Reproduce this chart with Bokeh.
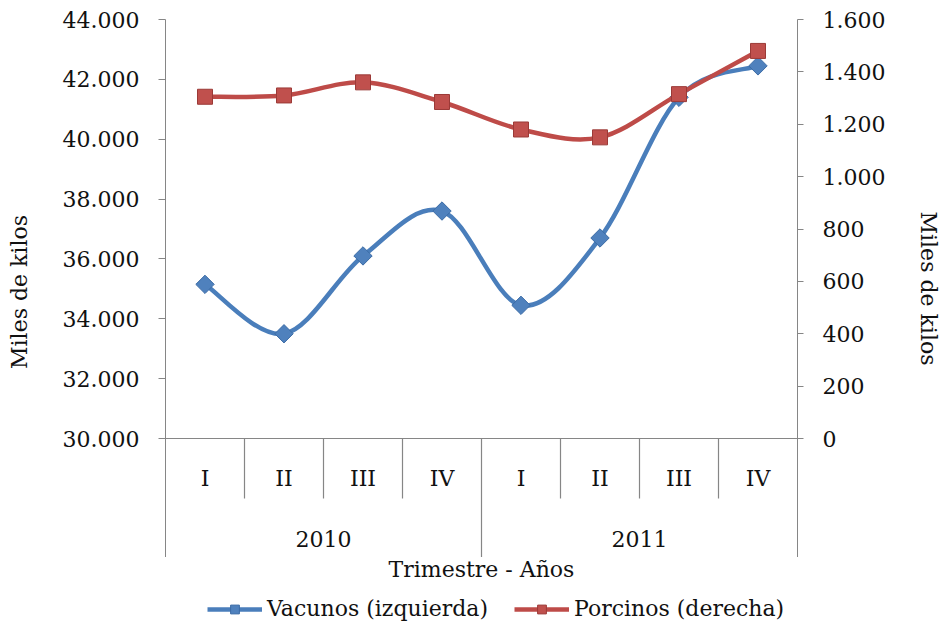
import numpy as np
from bokeh.plotting import figure
from bokeh.layouts import column
from bokeh.models import (Range1d, LinearAxis, FixedTicker, CustomJSTickFormatter,
                          Legend, LegendItem)
from bokeh.core.properties import value
from bokeh.embed import file_html
from bokeh.resources import INLINE

# ---------------- data ----------------
years = ["2010", "2011"]
quarters = ["I", "II", "III", "IV", "I", "II", "III", "IV"]
vacunos = [35150, 33500, 36100, 37600, 34450, 36700, 41400, 42450]
porcinos = [1305, 1310, 1360, 1285, 1180, 1150, 1315, 1480]
left_ticks = [30000, 32000, 34000, 36000, 38000, 40000, 42000, 44000]
right_ticks = [0, 200, 400, 600, 800, 1000, 1200, 1400, 1600]
series_names = ["Vacunos (izquierda)", "Porcinos (derecha)"]
x_title = "Trimestre - Años"

# ---------------- layout constants (page pixels) ----------------
W, H = 940, 622
PAGE_TOP, PAGE_AXIS, PAGE_BOTTOM = 19, 438, 557
FRAME_LEFT, FRAME_RIGHT = 165, 797
L_MIN, L_MAX = left_ticks[0], left_ticks[-1]
R_MIN, R_MAX = right_ticks[0], right_ticks[-1]
l_per_px = (L_MAX - L_MIN) / (PAGE_AXIS - PAGE_TOP)
r_per_px = (R_MAX - R_MIN) / (PAGE_AXIS - PAGE_TOP)


def left_at(page_y):
    return L_MIN - (page_y - PAGE_AXIS) * l_per_px


left_lo = left_at(PAGE_BOTTOM)
right_lo = R_MIN - (PAGE_BOTTOM - PAGE_AXIS) * r_per_px

n = len(quarters)
xs = [i + 0.5 for i in range(n)]

FONT = "DejaVu Serif"
FS = "22px"
GRAY = "#868686"
TXT = "#111111"

BLUE_LINE, BLUE_FILL, BLUE_EDGE = "#4A7EBB", "#4F81BD", "#3C6CA6"
RED_LINE, RED_FILL, RED_EDGE = "#BE4B48", "#C0504D", "#9B3A37"


def bezier_parts(x, y):
    """Catmull-Rom style smoothing (as Excel's smoothed line) as cubic Bezier control points."""
    P = list(zip(x, y))
    out = {k: [] for k in ("x0", "y0", "x1", "y1", "cx0", "cy0", "cx1", "cy1")}
    m = len(P)
    for i in range(m - 1):
        p0 = P[i - 1] if i > 0 else P[i]
        p1 = P[i]
        p2 = P[i + 1]
        p3 = P[i + 2] if i + 2 < m else P[i + 1]
        out["x0"].append(p1[0]); out["y0"].append(p1[1])
        out["x1"].append(p2[0]); out["y1"].append(p2[1])
        out["cx0"].append(p1[0] + (p2[0] - p0[0]) / 6.0)
        out["cy0"].append(p1[1] + (p2[1] - p0[1]) / 6.0)
        out["cx1"].append(p2[0] - (p3[0] - p1[0]) / 6.0)
        out["cy1"].append(p2[1] - (p3[1] - p1[1]) / 6.0)
    return out


# ================= main chart =================
p = figure(frame_width=FRAME_RIGHT - FRAME_LEFT, frame_height=PAGE_BOTTOM - PAGE_TOP,
           x_range=Range1d(0, n), y_range=Range1d(left_lo, L_MAX),
           output_backend="svg", toolbar_location=None, x_axis_location=None,
           min_border_left=FRAME_LEFT, min_border_right=W - FRAME_RIGHT,
           min_border_top=PAGE_TOP, min_border_bottom=0)
p.extra_y_ranges = {"right": Range1d(right_lo, R_MAX)}
p.grid.visible = False
p.outline_line_color = None
p.background_fill_color = "white"
p.border_fill_color = "white"

fmt_code = r"return Math.round(tick).toString().replace(/\B(?=(\d{3})+(?!\d))/g, '.');"


def style_axis(ax, label, tick_out, label_standoff):
    ax.axis_line_color = GRAY
    ax.major_tick_line_color = GRAY
    ax.major_tick_in = 0
    ax.major_tick_out = tick_out
    ax.minor_tick_line_color = None
    ax.major_label_text_font = FONT
    ax.major_label_text_font_size = FS
    ax.major_label_text_color = TXT
    ax.major_label_standoff = 19
    ax.axis_label = label
    ax.axis_label_text_font = FONT
    ax.axis_label_text_font_size = FS
    ax.axis_label_text_font_style = "normal"
    ax.axis_label_text_color = TXT
    ax.axis_label_standoff = label_standoff


ya = p.yaxis[0]
ya.ticker = FixedTicker(ticks=left_ticks)
ya.formatter = CustomJSTickFormatter(code=fmt_code)
style_axis(ya, "Miles  de kilos", 7, 28)

ra = LinearAxis(y_range_name="right", ticker=FixedTicker(ticks=right_ticks),
                formatter=CustomJSTickFormatter(code=fmt_code))
style_axis(ra, "Miles de kilos", 6, 28)
p.add_layout(ra, "right")

# category axis drawn inside the frame
p.segment(x0=[0], y0=[L_MIN], x1=[n], y1=[L_MIN], line_color=GRAY, line_width=1.2)
qsep = [i for i in range(1, n) if i != n // 2]
p.segment(x0=qsep, y0=[L_MIN] * len(qsep), x1=qsep, y1=[left_at(498)] * len(qsep),
          line_color=GRAY, line_width=1.2)
p.segment(x0=[n // 2], y0=[L_MIN], x1=[n // 2], y1=[left_lo], line_color=GRAY, line_width=1.2)

p.text(x=xs, y=[left_at(478)] * n, text=quarters, text_align="center", text_baseline="middle",
       text_font=value(FONT), text_font_size=FS, text_color=TXT)
year_x = [n / 4, 3 * n / 4]
p.text(x=year_x, y=[left_at(538)] * 2, text=years, text_align="center", text_baseline="middle",
       text_font=value(FONT), text_font_size=FS, text_color=TXT)

# series
bv = bezier_parts(xs, vacunos)
p.bezier(**bv, line_color=BLUE_LINE, line_width=4.5)
p.scatter(xs, vacunos, marker="square", angle=np.pi / 4, size=13,
          fill_color=BLUE_FILL, line_color=BLUE_EDGE, line_width=1)

bp = bezier_parts(xs, porcinos)
p.bezier(**bp, line_color=RED_LINE, line_width=4.5, y_range_name="right")
p.scatter(xs, porcinos, marker="square", size=15,
          fill_color=RED_FILL, line_color=RED_EDGE, line_width=1, y_range_name="right")

# ================= footer: axis title + legend =================
# the footer's frame is aligned with the main frame, so its x range is in page pixels
FOOT_H = H - PAGE_BOTTOM
f = figure(frame_width=FRAME_RIGHT - FRAME_LEFT, frame_height=FOOT_H,
           x_range=Range1d(FRAME_LEFT, FRAME_RIGHT), y_range=Range1d(0, FOOT_H),
           output_backend="svg", toolbar_location=None,
           x_axis_location=None, y_axis_location=None,
           min_border_left=FRAME_LEFT, min_border_right=W - FRAME_RIGHT,
           min_border_top=0, min_border_bottom=0)
f.grid.visible = False
f.outline_line_color = None
f.background_fill_color = "white"
f.border_fill_color = "white"

f.text(x=[(FRAME_LEFT + FRAME_RIGHT) / 2], y=[H - 569], text=[x_title],
       text_align="center", text_baseline="middle",
       text_font=value(FONT), text_font_size=FS, text_color=TXT)

# legend keys: the series drawn into the footer fall far outside its ranges,
# so only their legend swatches are visible
bl = f.line(xs, vacunos, line_color=BLUE_LINE, line_width=4.5)
bs = f.scatter(xs, vacunos, marker="square", angle=np.pi / 4, size=11,
               fill_color=BLUE_FILL, line_color=BLUE_EDGE, line_width=1)
rl = f.line(xs, porcinos, line_color=RED_LINE, line_width=4.5)
rs = f.scatter(xs, porcinos, marker="square", size=12,
               fill_color=RED_FILL, line_color=RED_EDGE, line_width=1)

legend = Legend(items=[LegendItem(label=series_names[0], renderers=[bl, bs]),
                       LegendItem(label=series_names[1], renderers=[rl, rs])],
                orientation="horizontal", location=(207 - FRAME_LEFT, 1),
                border_line_color=None, background_fill_alpha=0,
                label_text_font=FONT, label_text_font_size=FS, label_text_color=TXT,
                glyph_width=55, glyph_height=22, label_height=22, label_standoff=5,
                spacing=26, padding=0, margin=0)
f.add_layout(legend, "center")

layout = column(p, f, spacing=0)
open("out.html", "w").write(file_html(layout, INLINE))
